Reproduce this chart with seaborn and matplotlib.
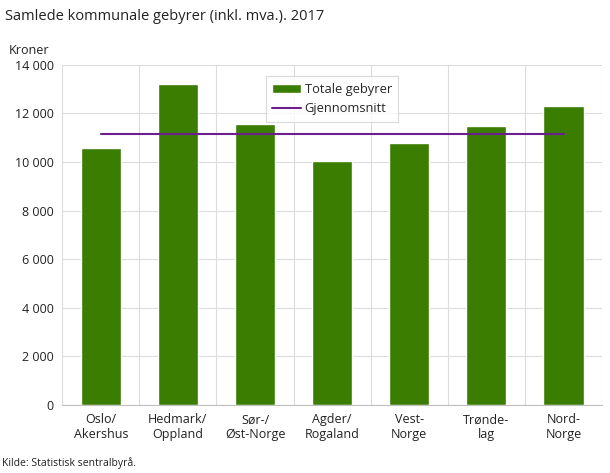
import matplotlib
matplotlib.use('Agg')
import matplotlib.pyplot as plt
import seaborn as sns
import pandas as pd
from matplotlib.ticker import FuncFormatter

# Chart data
regions = ['Oslo/\nAkershus', 'Hedmark/\nOppland', 'Sør-/\nØst-Norge', 'Agder/\nRogaland',
           'Vest-\nNorge', 'Trønde-\nlag', 'Nord-\nNorge']
totale_gebyrer = [10570, 13230, 11580, 10060, 10800, 11470, 12320]
gjennomsnitt = [11160, 11160, 11160, 11160, 11160, 11160, 11160]

df = pd.DataFrame({'region': regions, 'total': totale_gebyrer, 'snitt': gjennomsnitt})

sns.set_style('white')
plt.rcParams['font.family'] = ['Open Sans', 'DejaVu Sans']

fig = plt.figure(figsize=(6.1, 4.73), dpi=100)
ax = fig.add_axes([0.102, 0.144, 0.885, 0.719])

green = '#3a7d00'
purple = '#6b1f8f'

sns.barplot(data=df, x='region', y='total', color=green, width=0.52,
            saturation=1, ax=ax, label='Totale gebyrer')
sns.lineplot(data=df, x='region', y='snitt', color=purple, linewidth=1.5,
             ax=ax, label='Gjennomsnitt')

ax.set_ylim(0, 14000)
ax.set_xlim(-0.5, len(regions) - 0.5)
ax.set_yticks(range(0, 14001, 2000))
ax.yaxis.set_major_formatter(FuncFormatter(lambda v, p: f'{int(v):,}'.replace(',', ' ')))

# grid: horizontal at ticks, vertical at category boundaries
grid_c = '#dcdcdc'
ax.grid(axis='y', color=grid_c, linewidth=0.8)
for b in range(len(regions) + 1):
    ax.axvline(b - 0.5, color=grid_c, linewidth=0.8, zorder=0)
ax.set_axisbelow(True)

for s in ['top', 'right', 'left']:
    ax.spines[s].set_visible(False)
ax.spines['bottom'].set_color('#bfbfbf')

ax.tick_params(axis='both', length=0, labelsize=9, colors='#222222', pad=6)
ax.set_xlabel('')
ax.set_ylabel('')

# bars first in the legend
handles, labels = ax.get_legend_handles_labels()
order = [labels.index('Totale gebyrer'), labels.index('Gjennomsnitt')]
leg = ax.legend([handles[i] for i in order], [labels[i] for i in order],
                loc='upper center', bbox_to_anchor=(0.5, 0.985), fontsize=9.3,
                frameon=True, fancybox=False, edgecolor='#d0d0d0',
                handlelength=2.2, handletextpad=0.3, borderpad=0.5, labelspacing=0.5)
leg.get_frame().set_linewidth(0.8)

fig.text(0.008, 0.965, 'Samlede kommunale gebyrer (inkl. mva.). 2017', fontsize=10.5,
         color='#222222', va='center')
fig.text(0.015, 0.893, 'Kroner', fontsize=9, color='#222222', va='center')
fig.text(0.003, 0.02, 'Kilde: Statistisk sentralbyrå.', fontsize=7.5, color='#222222', va='center')

fig.savefig('out.png', dpi=100)
